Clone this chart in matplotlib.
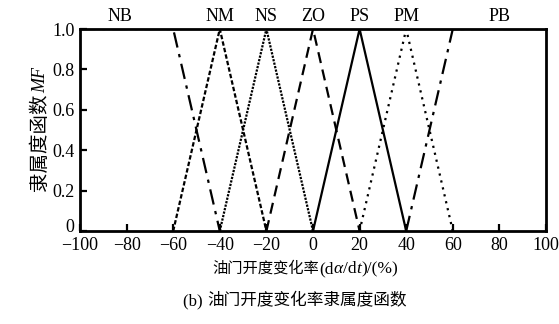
import matplotlib
matplotlib.use("Agg")
import matplotlib.pyplot as plt
from matplotlib.ticker import FuncFormatter
from matplotlib.transforms import ScaledTranslation

plt.rcParams['font.family'] = ['Liberation Serif', 'Noto Sans CJK SC']

# Data
names = ['NB', 'NM', 'NS', 'ZO', 'PS', 'PM', 'PB']
label_x = [-83, -40, -20, 0, 20, 40, 80]
mf_x = [
    [-100, -60, -40],
    [-60, -40, -20],
    [-40, -20, 0],
    [-20, 0, 20],
    [0, 20, 40],
    [20, 40, 60],
    [40, 60, 100],
]
mf_y = [
    [1, 1, 0],
    [0, 1, 0],
    [0, 1, 0],
    [0, 1, 0],
    [0, 1, 0],
    [0, 1, 0],
    [0, 1, 1],
]
x_ticks = [-100, -80, -60, -40, -20, 0, 20, 40, 60, 80, 100]
y_ticks = [0, 0.2, 0.4, 0.6, 0.8, 1.0]

styles = [
    (0, (7, 3, 1.5, 3)),
    (0, (2, 1)),
    (0, (1, 0.6)),
    (0, (5, 3)),
    '-',
    (0, (1, 2.2)),
    (0, (7, 3, 1.5, 3)),
]

W, H = 559, 324
fig = plt.figure(figsize=(W/100, H/100), dpi=100)
ax = fig.add_axes([80/W, 1-231/H, (546-80)/W, (231-29)/H])

for xs, ys, ls in zip(mf_x, mf_y, styles):
    ax.plot(xs, ys, color='black', linestyle=ls, linewidth=1.6, zorder=2)

ax.set_xlim(-100, 100)
ax.set_ylim(0, 1)
ax.set_xticks(x_ticks)
ax.set_yticks(y_ticks)
ax.yaxis.set_major_formatter(FuncFormatter(lambda v, p: '0' if abs(v) < 1e-9 else f'{v:.1f}'))
ax.xaxis.set_major_formatter(FuncFormatter(lambda v, p: f'{int(round(v))}'.replace('-', '\u2212')))
ax.tick_params(direction='in', length=5, width=1.6, labelsize=13, top=False, right=False, pad=4)
for s in ax.spines.values():
    s.set_linewidth(2)
    s.set_zorder(3)

fig.canvas.draw()
t0 = ax.yaxis.get_major_ticks()[0]
t0.label1.set_transform(t0.label1.get_transform() + ScaledTranslation(0, 4/72, fig.dpi_scale_trans))

for n, lx in zip(names, label_x):
    ax.text(lx, 1.018, n, ha='center', va='bottom', fontsize=13, clip_on=False)

SERIF = ['Liberation Serif', 'Noto Sans CJK SC']
CJK = ['Noto Sans CJK SC', 'Liberation Serif']

renderer = fig.canvas.get_renderer()


def chain(pieces, cx, cy, vertical=False):
    """Place text pieces one after another, centered at pixel (cx, cy) from top-left."""
    objs = []
    for s, fam, size, style in pieces:
        t = fig.text(0, 0, s, family=fam, fontsize=size, style=style,
                     ha='left', va='baseline', rotation=90 if vertical else 0,
                     rotation_mode='anchor')
        objs.append(t)
    lens = []
    for t in objs:
        bb = t.get_window_extent(renderer)
        lens.append(bb.height if vertical else bb.width)
    total = sum(lens)
    pos = -total / 2
    for t, L in zip(objs, lens):
        if vertical:
            t.set_position((cx / W, 1 - (cy - pos) / H))
        else:
            t.set_position(((cx + pos) / W, 1 - cy / H))
        pos += L
    return objs


# y label (rotated)
chain([('隶属度函数', CJK, 14, 'normal'), ('MF', SERIF, 13, 'italic')],
      45, 129, vertical=True)

# x label
chain([('油门开度变化率', CJK, 11, 'normal'),
       ('(d', SERIF, 12.5, 'normal'),
       ('α', SERIF, 12.5, 'italic'),
       ('/d', SERIF, 12.5, 'normal'),
       ('t', SERIF, 12.5, 'italic'),
       (')/(%)', SERIF, 12.5, 'normal')],
      305, 273)

# caption
chain([('(b) ', SERIF, 12, 'normal'), ('油门开度变化率隶属度函数', CJK, 12, 'normal')],
      295, 305)

fig.savefig('out.png', dpi=100)
